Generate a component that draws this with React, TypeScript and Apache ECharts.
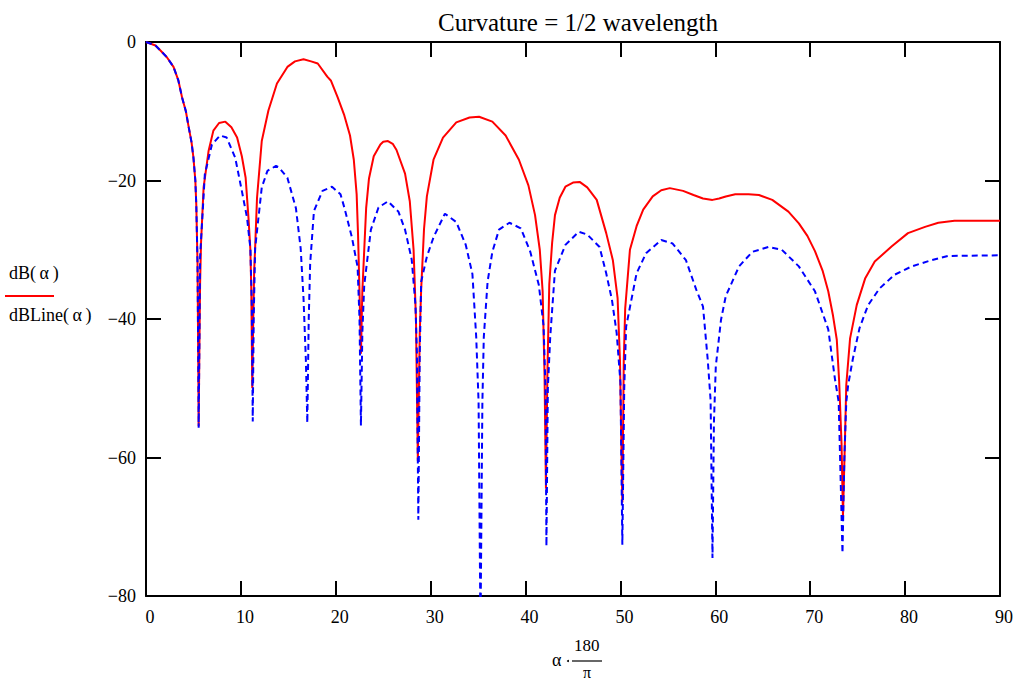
import React, { useEffect, useRef } from "react";
import * as echarts from "echarts";

const titleText = "Curvature = 1/2 wavelength";
const xTicks = [0, 10, 20, 30, 40, 50, 60, 70, 80, 90];
const yTicks = [0, -20, -40, -60, -80];

// dB(α) — solid red
const dBAngle = [
  0, 1, 1.5, 2.2, 2.9, 3.4, 3.8, 4.2, 4.5, 4.8, 5.0, 5.2, 5.3, 5.43, 5.5, 5.55, 5.62, 5.7, 5.8, 6.07,
  6.6, 7.1, 7.7, 8.36, 9.0, 9.6, 10.1, 10.5, 10.8, 11.0, 11.1, 11.2, 11.3, 11.4, 11.5, 11.7, 12.2, 12.9,
  13.8, 14.9, 15.7, 16.6, 17.4, 18.1, 19.1, 19.5, 20.2, 20.9, 21.5, 21.9, 22.2, 22.35, 22.5, 22.65, 22.8,
  23.0, 23.2, 23.5, 24.0, 24.7, 25.0, 25.5, 26.0, 26.4, 27.3, 27.8, 28.2, 28.45, 28.65, 28.85, 29.0, 29.3, 29.6, 30.3,
  31.3, 32.7, 34.1, 35.1, 36.5, 37.9, 39.3, 40.3, 41.0, 41.5, 41.8, 42.0, 42.15, 42.3, 42.5, 42.8, 43.1,
  43.6, 44.2, 45.0, 45.7, 46.5, 47.5, 48.5, 49.2, 49.7, 49.95, 50.2, 50.35, 50.5, 51.0, 51.7, 52.4, 53.4,
  54.3, 55.2, 56.6, 57.7, 58.7, 59.7, 60.4, 61.1, 62.1, 63.5, 64.6, 66.0, 67.7, 68.8, 69.7, 70.5, 71.3,
  71.9, 72.4, 72.8, 73.05, 73.3, 73.45, 73.65, 73.8, 74.2, 74.9, 75.8, 76.8, 78.6, 80.3, 82.1, 83.5, 85.2, 90,
];
const dBValue = [
  0, -0.5, -1.2, -2.2, -3.6, -5.5, -8.0, -10, -12.3, -14.5, -16.7, -20, -23.5, -32, -45, -55.5, -45, -35, -29, -21,
  -15.7, -12.8, -11.7, -11.5, -12.3, -13.8, -16.5, -19.6, -25.4, -30, -36, -50, -40, -33, -29.8, -22.5, -14.3, -9.9,
  -6.0, -3.6, -2.8, -2.5, -2.8, -3.1, -5.0, -5.6, -8, -10.6, -13.5, -17, -22, -28, -36, -45, -36,
  -30, -24, -19.7, -16.5, -14.8, -14.4, -14.3, -14.7, -15.6, -19, -23, -30, -40, -60.5, -42, -35.7, -27, -22.3, -17,
  -13.8, -11.6, -10.9, -10.8, -11.5, -13.5, -17, -20.7, -25, -30, -36, -48, -64.5, -48, -35, -29, -25,
  -22.5, -20.9, -20.3, -20.2, -21, -22.8, -27.6, -31.5, -37, -46, -66.5, -46, -38.5, -30, -26.6, -24.2, -22.3,
  -21.4, -21.1, -21.5, -22.1, -22.6, -22.8, -22.6, -22.3, -22.0, -22.0, -22.1, -22.8, -24.5, -26.2, -28, -30.2, -33,
  -36, -39.5, -43, -49, -58, -68.5, -58, -49.5, -42.8, -38, -34.1, -31.7, -29.5, -27.6, -26.7, -26.1, -25.8, -25.8,
];

// dBLine(α) — dashed blue
const dBLineAngle = [
  0, 1, 1.5, 2.2, 2.9, 3.4, 3.8, 4.2, 4.5, 4.8, 5.0, 5.2, 5.3, 5.43, 5.5, 5.55, 5.62, 5.7, 6.2, 6.95,
  7.8, 8.5, 9.4, 10.1, 10.65, 11.0, 11.15, 11.25, 11.35, 11.5, 12.2, 12.8, 13.7, 14.0, 14.9, 15.8, 16.3,
  16.6, 16.85, 17.0, 17.15, 17.3, 17.7, 18.6, 19.6, 20.5, 20.9, 21.7, 22.3, 22.5, 22.65, 22.8, 23.0, 23.7,
  24.5, 25.5, 26.6, 27.3, 28.0, 28.4, 28.55, 28.7, 28.85, 29.0, 29.6, 30.3, 31.5, 32.7, 33.7, 34.4, 34.8,
  35.05, 35.25, 35.45, 35.6, 36.0, 36.5, 37.2, 38.3, 39.5, 40.5, 41.4, 41.9, 42.1, 42.2, 42.35, 42.6, 43.1,
  44.2, 45.6, 46.5, 47.8, 48.5, 49.1, 49.6, 50.0, 50.2, 50.4, 50.6, 51.7, 52.7, 54.3, 55.5, 56.9, 58.0, 58.7,
  59.2, 59.5, 59.7, 59.85, 60.05, 60.6, 61.1, 62.5, 63.9, 65.6, 67.0, 68.8, 70.5, 71.9, 72.6, 73.0, 73.4, 73.6,
  73.8, 74.0, 74.5, 75.2, 76.1, 77.3, 78.9, 80.7, 82.8, 84.5, 90,
];
const dBLineValue = [
  0, -0.5, -1.2, -2.2, -3.6, -5.5, -8.0, -10, -12.3, -14.5, -16.7, -20, -23.5, -32, -45, -55.7, -45, -31, -19.1, -14.8,
  -13.5, -13.8, -16.7, -21.5, -25.4, -29.8, -38, -54.8, -40, -29.8, -21, -18.6, -17.9, -18.1, -19.6, -24, -29.8,
  -37, -46, -55, -40, -32, -24.4, -21.5, -20.9, -22, -23.9, -28.2, -32.5, -40, -55.4, -42, -35.1, -27.1,
  -23.9, -23.0, -24.5, -27.1, -31.4, -38, -45, -69, -45, -34.6, -31, -28.2, -24.8, -26, -29.3, -33.5, -42.6,
  -52, -85, -52, -42.6, -34.6, -30.3, -27.1, -26.1, -26.9, -30.3, -35.1, -41, -50, -72.8, -50, -42.6, -33,
  -29.3, -27.4, -27.8, -29.6, -33.4, -37.2, -42, -49.2, -72.6, -50, -41.1, -33.4, -30.5, -28.6, -29.1, -31.5, -35.8, -38.2,
  -45.9, -51.7, -74.5, -55, -46.8, -40.1, -36.7, -32.4, -30.3, -29.6, -30, -32.4, -36, -41.5, -48.6, -52, -73.8, -60,
  -52, -49.5, -45.7, -41.3, -38, -35.6, -33.6, -32.4, -31.5, -30.9, -30.8,
];

const FONT = "'Liberation Serif', 'Times New Roman', serif";

export default function App() {
  const ref = useRef<HTMLDivElement>(null);
  useEffect(() => {
    if (!ref.current) return;
    const chart = echarts.init(ref.current, undefined, { renderer: "svg" });
    const dBData = dBAngle.map((a, i) => [a, dBValue[i]]);
    const dBLineData = dBLineAngle.map((a, i) => [a, dBLineValue[i]]);
    const axisLine = { show: true, onZero: false, lineStyle: { color: "#000", width: 2 } };
    const tick = { show: true, inside: true, length: 15, lineStyle: { color: "#000", width: 2 } };
    const fmtY = (v: number) => (v === 0 ? "0" : "\u2212" + Math.abs(v));
    chart.setOption({
      animation: false,
      backgroundColor: "#fff",
      title: {
        text: titleText,
        left: 573,
        textAlign: "center",
        top: 5,
        textStyle: { fontFamily: FONT, fontSize: 25, fontWeight: "normal", color: "#000" },
      },
      grid: { left: 146, top: 42, right: 15, bottom: 85 },
      xAxis: [
        {
          type: "value", min: xTicks[0], max: xTicks[xTicks.length - 1], interval: 10, position: "bottom",
          axisLine, axisTick: tick, splitLine: { show: false },
          axisLabel: { color: "#000", fontFamily: FONT, fontSize: 18, margin: 12, padding: [0, 0, 0, 8] },
        },
        {
          type: "value", min: 0, max: 90, interval: 10, position: "top",
          axisLine, axisTick: tick, splitLine: { show: false }, axisLabel: { show: false },
        },
      ],
      yAxis: [
        {
          type: "value", min: yTicks[yTicks.length - 1], max: yTicks[0], interval: 20, position: "left",
          axisLine, axisTick: tick, splitLine: { show: false },
          axisLabel: { color: "#000", fontFamily: FONT, fontSize: 18, margin: 10, formatter: fmtY },
        },
        {
          type: "value", min: -80, max: 0, interval: 20, position: "right",
          axisLine, axisTick: tick, splitLine: { show: false }, axisLabel: { show: false },
        },
      ],
      series: [
        {
          name: "dB(α)", type: "line", data: dBData, showSymbol: false, symbol: "none",
          lineStyle: { color: "#ff0000", width: 2 }, clip: true, z: 2,
        },
        {
          name: "dBLine(α)", type: "line", data: dBLineData, showSymbol: false, symbol: "none",
          lineStyle: { color: "#0000ff", width: 2, type: [6, 4] }, clip: true, z: 3,
        },
      ],
      graphic: [
        { type: "text", left: 9, top: 264, style: { text: "dB(\u2009α\u2009)", font: `18px ${FONT}`, fill: "#000" } },
        { type: "line", shape: { x1: 5, y1: 296, x2: 54, y2: 296 }, style: { stroke: "#ff0000", lineWidth: 2 } },
        { type: "text", left: 9, top: 306, style: { text: "dBLine(\u2009α\u2009)", font: `18px ${FONT}`, fill: "#000" } },
        { type: "text", left: 552, top: 651, style: { text: "α", font: `18px ${FONT}`, fill: "#000" } },
        { type: "circle", shape: { cx: 568, cy: 661, r: 1 }, style: { fill: "#000" } },
        { type: "text", left: 574, top: 637, style: { text: "180", font: `17px ${FONT}`, fill: "#000" } },
        { type: "line", shape: { x1: 572, y1: 661, x2: 602, y2: 661 }, style: { stroke: "#000", lineWidth: 1.2 } },
        { type: "text", x: 587, y: 672, style: { text: "π", font: `16px ${FONT}`, fill: "#000", align: "center", verticalAlign: "middle" } },
      ],
    });
    return () => chart.dispose();
  }, []);
  return (
    <div
      ref={ref}
      style={{ position: "fixed", left: 0, top: 0, width: 1016, height: 681, background: "#fff" }}
    />
  );
}
